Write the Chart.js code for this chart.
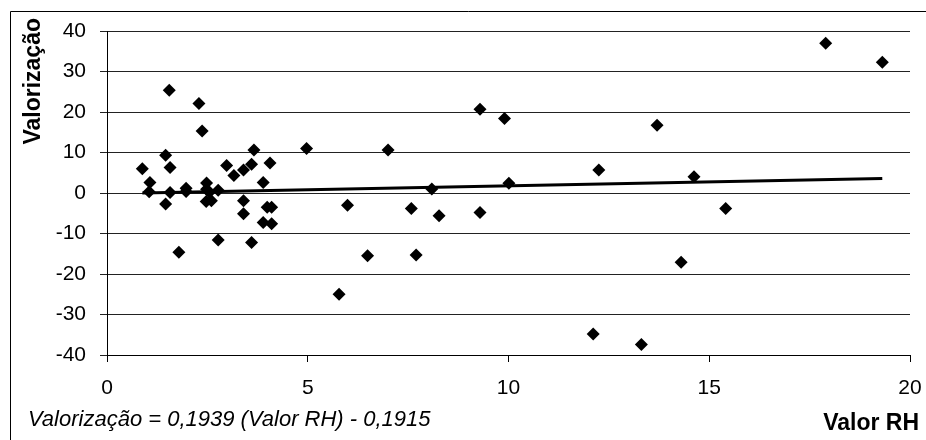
<!DOCTYPE html>
<html>
<head>
<meta charset="utf-8">
<title>Valorização x Valor RH</title>
<script src="https://cdn.jsdelivr.net/npm/chart.js@4.4.0/dist/chart.umd.min.js"></script>
<style>
  html, body { margin: 0; padding: 0; background: #fff; }
  canvas { display: block; }
</style>
</head>
<body>
<canvas id="myChart" width="926" height="440"></canvas>
<script>
// points (x = Valor RH, y = Valorização)
const valorRH = [0.88, 1.07, 1.05, 1.46, 1.57, 1.55, 1.57, 1.46, 1.79, 1.97, 1.97, 2.29, 2.37, 2.48,
  2.48, 2.47, 2.6, 2.55, 2.77, 2.77, 2.98, 3.16, 3.4, 3.6, 3.66, 4.06, 3.89, 3.4, 3.4, 3.99, 4.1,
  3.89, 4.1, 3.6, 4.97, 5.99, 5.78, 6.49, 7.0, 7.58, 7.7, 8.09, 8.27, 9.29, 9.9, 10.01, 9.29,
  12.25, 12.11, 13.31, 13.7, 14.62, 14.3, 15.41, 17.9, 19.31];
const valorizacao = [6.0, 2.6, 0.3, 9.3, 6.3, 25.4, 0.1, -2.7, -14.6, 1.2, 0.4, 22.1, 15.3, 2.5,
  0.9, -2.1, -1.9, 0.2, 0.7, -11.6, 6.8, 4.3, 5.7, 7.1, 10.6, 7.4, 2.6, -1.9, -5.1, -3.5, -3.5,
  -7.3, -7.6, -12.2, 11.0, -3.0, -25.0, -15.5, 10.6, -3.8, -15.3, 1.0, -5.6, 20.7, 18.4, 2.4, -4.8,
  5.7, -34.8, -37.4, 16.7, 4.0, -17.1, -3.8, 37.0, 32.3];

// trend line end points
const trendX = [0.88, 19.31];
const trendY = [-0.02, 3.55];

const xTicks = [0, 5, 10, 15, 20];
const yTicks = [-40, -30, -20, -10, 0, 10, 20, 30, 40];

const yTitle = 'Valorização';
const xTitle = 'Valor RH';
const equation = 'Valorização = 0,1939 (Valor RH) - 0,1915';

const FONT = "'Liberation Sans', Arial, sans-serif";

let points = valorRH.map((v, i) => ({ x: v, y: valorizacao[i] }));
let trend = trendX.map((v, i) => ({ x: v, y: trendY[i] }));

// white background, outer frame and the extra texts
const chartTexts = {
  id: 'chartTexts',
  beforeDraw(chart) {
    let ctx = chart.ctx;
    ctx.save();
    ctx.fillStyle = '#fff';
    ctx.fillRect(0, 0, chart.width, chart.height);
    ctx.strokeStyle = '#000';
    ctx.lineWidth = 1;
    ctx.beginPath();
    ctx.moveTo(10.5, chart.height);
    ctx.lineTo(10.5, 11.5);
    ctx.lineTo(chart.width, 11.5);
    ctx.stroke();
    ctx.restore();
  },
  afterDraw(chart) {
    let ctx = chart.ctx;
    ctx.save();
    ctx.fillStyle = '#000';
    ctx.textBaseline = 'middle';

    ctx.font = 'bold 23px ' + FONT;
    ctx.translate(34, 18);
    ctx.rotate(-Math.PI / 2);
    ctx.textAlign = 'right';
    ctx.fillText(yTitle, 0, 0);
    ctx.setTransform(1, 0, 0, 1, 0, 0);

    ctx.textAlign = 'right';
    ctx.fillText(xTitle, 919, 424);

    ctx.font = 'italic 22px ' + FONT;
    ctx.textAlign = 'left';
    ctx.fillText(equation, 28, 420);
    ctx.restore();
  }
};

let ctx = document.getElementById('myChart').getContext('2d');
let myChart = new Chart(ctx, {
  type: 'scatter',
  data: {
    datasets: [{
      type: 'line',
      data: trend,
      borderColor: '#000',
      borderWidth: 3,
      pointRadius: 0,
      fill: false
    }, {
      data: points,
      pointStyle: 'rectRot',
      pointRadius: 6.5,
      pointHoverRadius: 6.5,
      backgroundColor: '#000',
      borderWidth: 0
    }]
  },
  options: {
    responsive: false,
    animation: false,
    layout: { padding: { left: 0, top: 31, right: 16, bottom: 0 } },
    plugins: {
      legend: { display: false },
      tooltip: { enabled: false }
    },
    scales: {
      x: {
        type: 'linear',
        min: 0,
        max: 20,
        afterBuildTicks: (scale) => { scale.ticks = xTicks.map(v => ({ value: v })); },
        afterFit: (scale) => {
          scale.height = 85;
          // the end labels may hang over the plot edges
          scale.paddingLeft = 0;
          scale.paddingRight = 0;
        },
        ticks: { color: '#000', font: { family: FONT, size: 21 }, padding: 14, maxRotation: 0 },
        grid: { drawOnChartArea: false, color: '#000', tickLength: 7 },
        border: { color: '#000', width: 1 }
      },
      y: {
        min: -40,
        max: 40,
        afterBuildTicks: (scale) => { scale.ticks = yTicks.map(v => ({ value: v })); },
        afterFit: (scale) => {
          scale.width = 107;
          scale.paddingTop = 0;
          scale.paddingBottom = 0;
        },
        ticks: { color: '#000', font: { family: FONT, size: 21 }, padding: 14 },
        grid: { color: '#222', lineWidth: 1, tickLength: 7 },
        border: { color: '#000', width: 1 }
      }
    }
  },
  plugins: [chartTexts]
});
</script>
</body>
</html>
